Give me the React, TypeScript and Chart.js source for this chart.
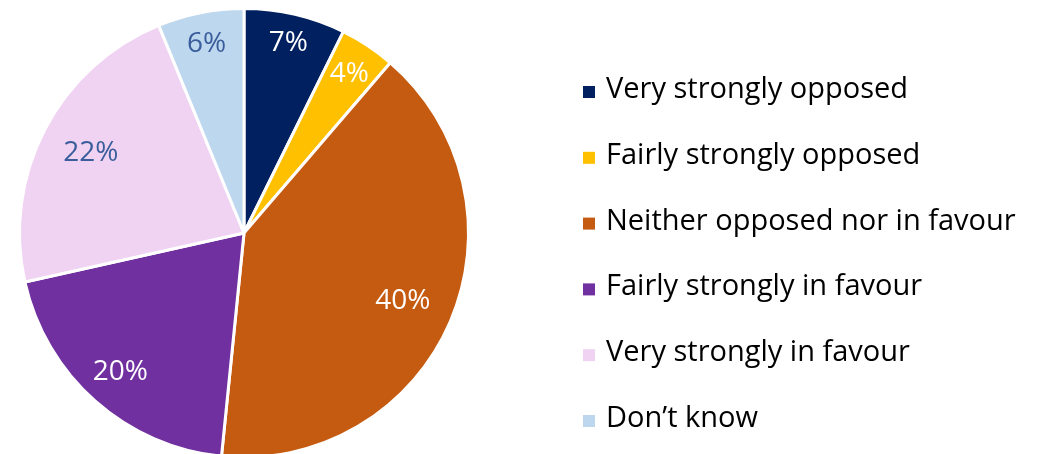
import React, { useEffect, useRef } from "react";
import { Chart, registerables } from "chart.js";

Chart.register(...registerables);

const categories = [
  "Very strongly opposed",
  "Fairly strongly opposed",
  "Neither opposed nor in favour",
  "Fairly strongly in favour",
  "Very strongly in favour",
  "Don\u2019t know",
];
const values = [7.3, 4.0, 40.3, 19.9, 22.3, 6.2];
const valueLabels = ["7%", "4%", "40%", "20%", "22%", "6%"];

const sliceColors = ["#002060", "#FFC000", "#C55A11", "#7030A0", "#F0D3F2", "#BDD7EE"];
const labelColors = ["#FFFFFF", "#FFFFFF", "#FFFFFF", "#FFFFFF", "#3A5D9C", "#3A5D9C"];
const labelRadiusFactor = [0.87, 0.85, 0.77, 0.83, 0.77, 0.86];

const FONT = "'Open Sans', sans-serif";

const labelPlugin = {
  id: "sliceLabels",
  afterDatasetsDraw(chart: any) {
    const ctx = chart.ctx;
    const meta = chart.getDatasetMeta(0);
    ctx.save();
    ctx.font = `28px ${FONT}`;
    ctx.textAlign = "center";
    ctx.textBaseline = "middle";
    meta.data.forEach((arc: any, i: number) => {
      const { x, y, startAngle, endAngle, outerRadius } = arc.getProps(
        ["x", "y", "startAngle", "endAngle", "outerRadius"],
        true
      );
      const mid = (startAngle + endAngle) / 2;
      const r = outerRadius * labelRadiusFactor[i];
      ctx.fillStyle = labelColors[i];
      ctx.fillText(valueLabels[i], x + Math.cos(mid) * r, y + Math.sin(mid) * r);
    });
    ctx.restore();
  },
};

const legendPlugin = {
  id: "customLegend",
  afterDraw(chart: any) {
    const ctx = chart.ctx;
    ctx.save();
    ctx.font = `29px ${FONT}`;
    ctx.textAlign = "left";
    ctx.textBaseline = "alphabetic";
    const boxX = 583;
    const textX = 606;
    const firstBaseline = 98;
    const step = 65.8;
    categories.forEach((c, i) => {
      const base = firstBaseline + i * step;
      ctx.fillStyle = sliceColors[i];
      ctx.fillRect(boxX, base - 12, 12, 12);
      ctx.fillStyle = "#000000";
      ctx.fillText(c, textX, base);
    });
    ctx.restore();
  },
};

export default function App() {
  const ref = useRef<HTMLCanvasElement | null>(null);
  useEffect(() => {
    if (!ref.current) return;
    const chart = new Chart(ref.current, {
      type: "pie",
      data: {
        labels: categories,
        datasets: [
          {
            data: values,
            backgroundColor: sliceColors,
            borderColor: "#FFFFFF",
            borderWidth: 3,
          },
        ],
      },
      options: {
        animation: false,
        responsive: false,
        maintainAspectRatio: false,
        layout: { padding: { left: 18, right: 571, top: 7, bottom: 11 } },
        plugins: {
          legend: { display: false },
          tooltip: { enabled: false },
        },
      },
      plugins: [labelPlugin, legendPlugin],
    });
    return () => chart.destroy();
  }, []);
  return (
    <div style={{ position: "absolute", left: 0, top: 0, width: 1041, height: 454, overflow: "hidden", background: "#fff" }}>
      <canvas ref={ref} width={1041} height={470} style={{ display: "block" }} />
    </div>
  );
}
